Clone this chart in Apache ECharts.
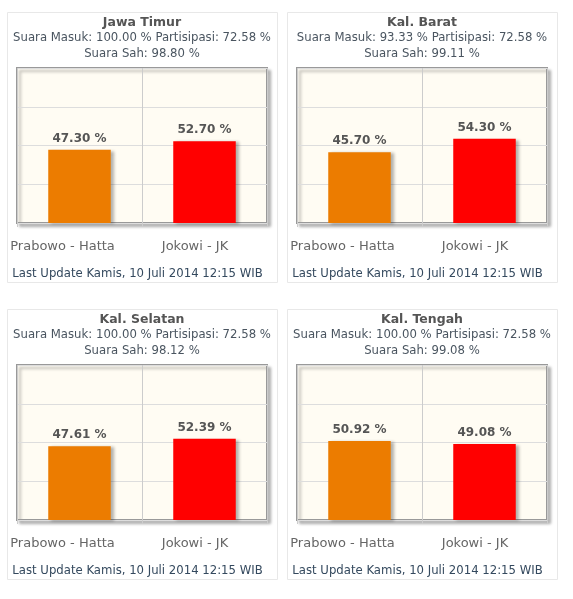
<!DOCTYPE html>
<html><head><meta charset="utf-8">
<script src="https://cdn.jsdelivr.net/npm/echarts@6/dist/echarts.min.js"></script>
<style>html,body{margin:0;padding:0;background:#fff}#c{width:573px;height:599px}</style>
</head><body><div id="c"></div>
<script>
var regions = ['Jawa Timur', 'Kal. Barat', 'Kal. Selatan', 'Kal. Tengah'];
var suaraMasuk = ['100.00', '93.33', '100.00', '100.00'];
var partisipasi = ['72.58', '72.58', '72.58', '72.58'];
var suaraSah = ['98.80', '99.11', '98.12', '99.08'];
var candidates = ['Prabowo - Hatta', 'Jokowi - JK'];
var prabowo = [47.30, 45.70, 47.61, 50.92];
var jokowi = [52.70, 54.30, 52.39, 49.08];
var lastUpdate = 'Last Update Kamis, 10 Juli 2014 12:15 WIB';
var colors = ['#EC7C00', '#FF0000'];

var FONT = 'DejaVu Sans';
var panelX = [7, 287], panelY = [12, 309];
var chart = echarts.init(document.getElementById('c'));
var titles = [], grids = [], xAxes = [], yAxes = [], series = [], graphics = [];

regions.forEach(function (r, i) {
  var px = panelX[i % 2], py = panelY[Math.floor(i / 2)];
  graphics.push({type: 'rect', shape: {x: px + 0.5, y: py + 0.5, width: 270, height: 270},
    style: {fill: '#fff', stroke: '#e8e8e8', lineWidth: 1}, z: -10, silent: true});
  graphics.push({type: 'text', x: px + 130.5, y: py + 262, style: {text: lastUpdate, fill: '#34495e',
    font: '11.7px "' + FONT + '"', align: 'center', verticalAlign: 'middle'}});
  titles.push({
    text: r,
    subtext: 'Suara Masuk: ' + suaraMasuk[i] + ' % Partisipasi: ' + partisipasi[i] + ' %\nSuara Sah: ' + suaraSah[i] + ' %',
    left: px + 130, top: py - 2, textAlign: 'center', itemGap: -1,
    textStyle: {fontFamily: FONT, fontSize: 12.5, fontWeight: 'bold', color: '#555', lineHeight: 16},
    subtextStyle: {fontFamily: FONT, fontSize: 11.7, color: '#4a5560', lineHeight: 16}
  });
  grids.push({left: px + 10, top: py + 56, width: 250, height: 155, show: true,
    backgroundColor: '#fffcf3', borderColor: '#999', borderWidth: 2,
    shadowColor: 'rgba(0,0,0,0.25)', shadowBlur: 3, shadowOffsetX: 3, shadowOffsetY: 3});
  xAxes.push({type: 'category', gridIndex: i, data: candidates,
    axisLine: {show: false},
    axisTick: {show: true, interval: 0, length: 4, lineStyle: {color: '#ccc'}},
    splitLine: {show: true, interval: 0, lineStyle: {color: '#ccc'}},
    axisLabel: {interval: 0, margin: 17, fontFamily: FONT, fontSize: 13, color: '#666', hideOverlap: false,
      formatter: function (v, idx) { return '{l' + idx + '|' + v + '}'; },
      rich: {l0: {padding: [0, 34, 0, 0], fontFamily: FONT, fontSize: 13, color: '#666'},
             l1: {padding: [0, 19, 0, 0], fontFamily: FONT, fontSize: 13, color: '#666'}}}
  });
  yAxes.push({type: 'value', gridIndex: i, min: 0, max: 100, interval: 25,
    axisLabel: {show: false}, axisLine: {show: false}, axisTick: {show: false},
    splitLine: {show: true, lineStyle: {color: '#ddd'}}});
  series.push({type: 'bar', xAxisIndex: i, yAxisIndex: i, barWidth: '50%',
    data: [{value: prabowo[i], itemStyle: {color: colors[0]}}, {value: jokowi[i], itemStyle: {color: colors[1]}}],
    itemStyle: {shadowColor: 'rgba(0,0,0,0.3)', shadowBlur: 3, shadowOffsetX: 3, shadowOffsetY: 1},
    label: {show: true, position: 'top', distance: 5, fontFamily: FONT, fontSize: 12, fontWeight: 'bold', color: '#555',
      formatter: function (p) { return p.value.toFixed(2) + ' %'; }},
    silent: true, animation: false});
});

chart.setOption({animation: false, title: titles, grid: grids, xAxis: xAxes, yAxis: yAxes, series: series, graphic: graphics});
</script></body></html>
